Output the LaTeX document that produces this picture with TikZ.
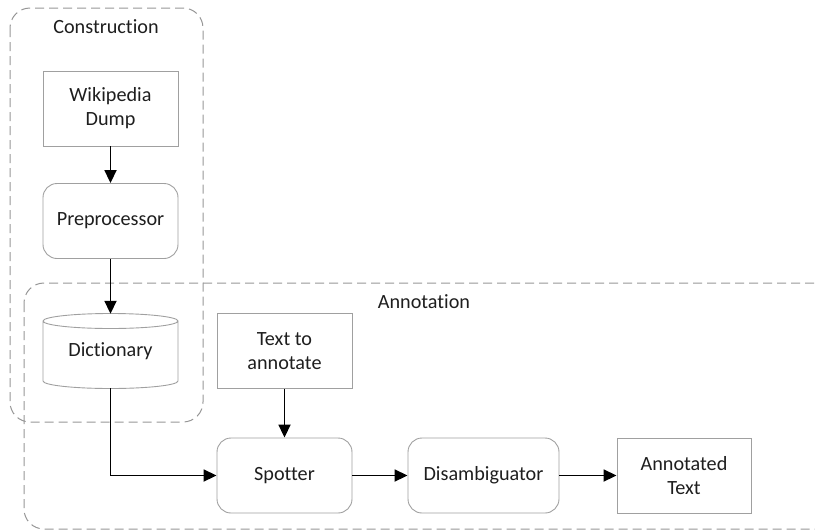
\documentclass[tikz,border=0pt]{standalone}
\usepackage{fontspec}
\setmainfont{Carlito}[Ligatures=NoCommon]
\usetikzlibrary{arrows.meta}
\definecolor{boxgray}{RGB}{160,160,160}
\definecolor{dashgray}{RGB}{150,150,150}
\definecolor{txt}{RGB}{30,30,30}
\tikzset{
  x=1pt, y=-1pt,
  every node/.style={font=\fontsize{20.2}{24}\selectfont, text=txt, align=center, inner sep=0pt},
  plainbox/.style={draw=boxgray, line width=0.9pt, minimum width=135pt, minimum height=75pt},
  roundbox/.style={plainbox, rounded corners=14pt},
  group/.style={draw=dashgray, line width=1pt, dash pattern=on 9pt off 5pt, rounded corners=20pt},
  flow/.style={line width=1.8pt, -{Triangle[length=13pt,width=12pt]}}
}
\begin{document}
\begin{tikzpicture}
\useasboundingbox (0,0) rectangle (815,531);
\clip (0,0) rectangle (815,531);
% groups
\draw[group] (10,8) rectangle (203,422);
\draw[group] (24,283) rectangle (840,529);
\node (lblc) at (106,27) {Construction};
\node (lbla) at (424,302) {Annotation};
% nodes
\node[plainbox] (wiki) at (110.5,108.5) {Wikipedia\\Dump};
\node[roundbox] (pre) at (110.5,221) {Preprocessor};
\node[minimum width=135pt, minimum height=74pt] (dict) at (110.5,351) {Dictionary};
\draw[draw=boxgray, line width=0.9pt]
  (43,321) arc[start angle=180, end angle=-180, x radius=67.5, y radius=7.5]
  (43,321) -- (43,381) arc[start angle=180, end angle=360, x radius=67.5, y radius=-7.5] -- (178,321);
\node[plainbox] (tta) at (284.5,351) {Text to\\annotate};
\node[roundbox] (spot) at (284.5,475.5) {Spotter};
\node[roundbox, minimum width=151pt] (dis) at (483.5,475.5) {Disambiguator};
\node[plainbox, minimum width=134pt] (ann) at (684,475.5) {Annotated\\Text};
% connectors
\draw[flow] (wiki) -- (pre);
\draw[flow] (pre) -- (dict.north);
\draw[flow] (dict.south) |- (spot.west);
\draw[flow] (tta) -- (spot);
\draw[flow] (spot) -- (dis);
\draw[flow] (dis) -- (ann);
\end{tikzpicture}
\end{document}
